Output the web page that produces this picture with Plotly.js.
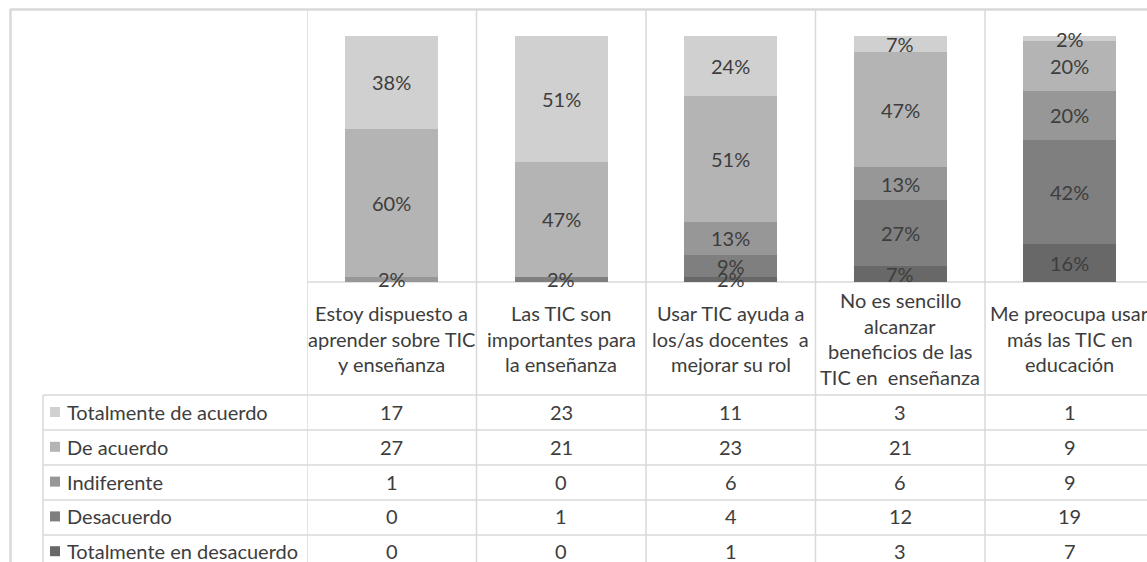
<!DOCTYPE html>
<html><head><meta charset="utf-8">
<script src="https://cdn.plot.ly/plotly-3.0.1.min.js"></script>
<style>html,body{margin:0;padding:0;overflow:hidden;background:#fff}</style>
</head><body><div id="chart" style="width:1147px;height:562px"></div>
<script>
// ---- data ----
const categories = [
  "Estoy dispuesto a<br>aprender sobre TIC<br>y enseñanza",
  "Las TIC son<br>importantes para<br>la enseñanza",
  "Usar TIC ayuda a<br>los/as docentes  a<br>mejorar su rol",
  "No es sencillo<br>alcanzar<br>beneficios de las<br>TIC en  enseñanza",
  "Me preocupa usar<br>más las TIC en<br>educación"
];
const seriesNames = ["Totalmente de acuerdo", "De acuerdo", "Indiferente", "Desacuerdo", "Totalmente en desacuerdo"];
const totalmenteDeAcuerdo = [17, 23, 11, 3, 1];
const deAcuerdo = [27, 21, 23, 21, 9];
const indiferente = [1, 0, 6, 6, 9];
const desacuerdo = [0, 1, 4, 12, 19];
const totalmenteEnDesacuerdo = [0, 0, 1, 3, 7];
const seriesValues = [totalmenteDeAcuerdo, deAcuerdo, indiferente, desacuerdo, totalmenteEnDesacuerdo];
const seriesColors = ["#d0d0d0", "#b4b4b4", "#979797", "#7f7f7f", "#686868"];

// ---- geometry (pixels) ----
const FIG_W = 1147, FIG_H = 562;
const PL = 307, PT = 36, PB = 282;           // plot area left / top / bottom
const COLW = 169.5;
const PW = FIG_W - PL, PH = PB - PT;
const xr = [-0.5, -0.5 + PW / COLW];
const px = v => (v - PL) / PW;                // pixel -> paper x
const py = v => (PB - v) / PH;                // pixel -> paper y
const FONT = "Lato, 'Noto Sans', sans-serif";
const TXT = "#3d3d3d";
const GRID = "#d9d9d9";
const FS = 20;

const n = categories.length;
const totals = categories.map((_, i) => seriesValues.reduce((s, arr) => s + arr[i], 0));
const idx = categories.map((_, i) => i);

const shapes = [];
const annotations = [];

// bars: stacked bottom (Totalmente en desacuerdo) to top (Totalmente de acuerdo)
const traces = [];
const base = categories.map(() => 0);
for (let s = seriesNames.length - 1; s >= 0; s--) {
  const vals = seriesValues[s];
  const pct = vals.map((v, i) => v / totals[i] * 100);
  traces.push({
    type: "bar", name: seriesNames[s], x: idx, y: pct,
    marker: {color: seriesColors[s], line: {width: 0}},
    textposition: "none", hoverinfo: "skip", showlegend: false
  });
  pct.forEach((p, i) => {
    if (vals[i] > 0) {
      annotations.push({xref: "x", yref: "y", x: i, y: base[i] + p / 2,
        text: Math.round(p) + "%", showarrow: false, xanchor: "center", yanchor: "middle",
        font: {family: FONT, size: FS, color: TXT}});
    }
    base[i] += p;
  });
}

const line = (x0, y0, x1, y1, w, xref) => shapes.push({
  type: "line", xref: xref || "paper", yref: "paper", x0, y0, x1, y1,
  line: {color: GRID, width: w}, layer: "below"
});
// outer frame
line(px(10), py(9.5), px(FIG_W + 5), py(9.5), 2.5);
line(px(10.5), py(9), px(10.5), py(FIG_H + 5), 2.5);
// column separators
for (let k = 0; k <= n; k++) line(k - 0.5, py(9), k - 0.5, py(FIG_H + 5), 1.5, "x");
// axis baseline
line(px(PL), py(PB), px(FIG_W + 5), py(PB), 1.5);
// table rows
const ROW0 = 395, ROWH = 35, TXT0 = 412, TXTH = 34.8;
for (let r = 0; r < seriesNames.length; r++) line(px(43), py(ROW0 + r * ROWH), px(FIG_W + 5), py(ROW0 + r * ROWH), 1.5);
line(px(43), py(ROW0), px(43), py(FIG_H + 5), 1.5);

// category labels (one annotation per line, centered in the 282..395 band)
const LINE_H = 25.7, LABEL_MID = 338.5;
categories.forEach((c, i) => {
  const lines = c.split("<br>");
  lines.forEach((t, j) => {
    const yc = LABEL_MID + (j - (lines.length - 1) / 2) * LINE_H;
    annotations.push({xref: "x", yref: "paper", x: i, y: py(yc), text: t.replace(/  /g, " &nbsp;"),
      showarrow: false, xanchor: "center", yanchor: "middle",
      font: {family: FONT, size: FS, color: TXT}});
  });
});

// table: series names with keys, values
seriesNames.forEach((name, r) => {
  const yc = TXT0 + r * TXTH;
  shapes.push({type: "rect", xref: "paper", yref: "paper",
    x0: px(50), x1: px(60), y0: py(yc - 5), y1: py(yc + 5),
    fillcolor: seriesColors[r], line: {width: 0}});
  annotations.push({xref: "paper", yref: "paper", x: px(65), y: py(yc), text: name,
    showarrow: false, xanchor: "left", yanchor: "middle",
    font: {family: FONT, size: FS, color: TXT}});
  seriesValues[r].forEach((v, i) => {
    annotations.push({xref: "x", yref: "paper", x: i, y: py(yc), text: String(v),
      showarrow: false, xanchor: "center", yanchor: "middle",
      font: {family: FONT, size: FS, color: TXT}});
  });
});

const layout = {
  width: FIG_W, height: FIG_H,
  margin: {l: PL, r: 0, t: PT, b: FIG_H - PB, pad: 0},
  paper_bgcolor: "#fff", plot_bgcolor: "rgba(0,0,0,0)",
  barmode: "stack", bargap: 0.45,
  xaxis: {range: xr, showgrid: false, zeroline: false, showticklabels: false, ticks: "", showline: false, fixedrange: true},
  yaxis: {range: [0, 100], showgrid: false, zeroline: false, showticklabels: false, ticks: "", showline: false, fixedrange: true},
  shapes, annotations, showlegend: false
};
Plotly.newPlot("chart", traces, layout, {displayModeBar: false, staticPlot: true});
</script></body></html>
